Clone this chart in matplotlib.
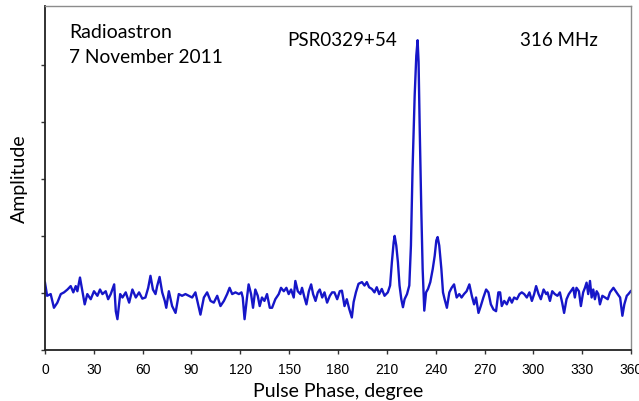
import matplotlib
matplotlib.use("Agg")
import matplotlib.pyplot as plt

# Pulse profile of PSR0329+54 (phase in degrees, relative amplitude)
phase = [
    0.0, 1.3, 3.5, 5.5, 7.6, 9.7, 11.7, 13.8, 15.8, 17.4, 18.9, 19.9, 21.5, 23.0,
    24.4, 26.0, 28.1, 30.1, 32.2, 33.8, 35.3, 37.3, 38.8, 40.4, 42.5, 43.5, 44.5,
    46.2, 47.6, 49.6, 51.7, 53.7, 55.8, 57.8, 59.8, 61.7, 63.4, 64.8, 66.3, 67.9,
    68.9, 70.4, 72.0, 73.6, 74.5, 76.1, 78.1, 80.2, 82.2, 84.2, 86.3, 88.3, 90.4,
    92.4, 94.1, 95.5, 97.6, 99.6, 101.7, 103.7, 105.8, 107.8, 109.9, 111.9, 113.4,
    115.0, 117.0, 119.1, 120.7, 121.5, 122.6, 124.1, 125.1, 126.6, 127.8, 129.2,
    130.7, 131.9, 133.3, 134.8, 136.4, 138.1, 139.5, 141.5, 143.6, 145.0, 146.7,
    148.3, 149.7, 151.2, 152.8, 153.8, 155.3, 156.9, 157.9, 159.4, 160.6, 162.1,
    163.5, 164.7, 166.2, 167.6, 168.8, 170.3, 171.7, 173.3, 175.0, 176.4, 177.8,
    179.5, 181.1, 182.4, 184.0, 185.4, 186.9, 188.5, 189.6, 191.0, 192.6, 194.7,
    196.3, 197.7, 199.1, 200.8, 202.4, 203.8, 205.3, 206.9, 208.6, 210.6, 212.0,
    213.1, 214.2, 214.8, 215.8, 216.8, 217.8, 218.9, 219.9, 220.9, 222.4, 223.8,
    224.8, 225.8, 227.1, 228.1, 228.9, 229.5, 230.2, 231.2, 232.0, 233.0, 234.1,
    235.3, 236.7, 238.2, 239.4, 240.4, 241.2, 242.2, 243.5, 244.5, 245.5, 246.9,
    248.4, 249.8, 251.3, 252.9, 254.5, 255.9, 257.4, 259.0, 260.7, 262.2, 263.6,
    264.8, 266.3, 267.7, 269.3, 271.0, 272.4, 273.9, 275.5, 277.1, 278.5, 279.6,
    280.6, 282.1, 283.7, 285.4, 286.8, 288.2, 289.9, 291.5, 292.9, 294.4, 296.0,
    297.6, 299.1, 300.5, 301.7, 303.2, 304.6, 306.3, 307.9, 308.7, 310.2, 311.6,
    313.2, 314.8, 316.3, 317.7, 318.9, 320.4, 321.8, 323.0, 324.5, 325.5, 326.5,
    328.0, 329.2, 330.6, 331.7, 332.7, 333.7, 334.8, 335.8, 336.8, 337.8, 338.9,
    339.9, 340.9, 342.4, 344.0, 345.7, 347.1, 349.2, 350.6, 351.8, 353.3, 354.7,
    355.9, 357.4, 358.4, 359.8,
]
amplitude = [
    1.18, 0.95, 0.98, 0.74, 0.83, 0.98, 1.01, 1.06, 1.12, 1.01, 1.12, 1.03, 1.27, 1.03,
    0.80, 0.98, 0.89, 1.03, 0.95, 1.06, 0.98, 1.03, 0.89, 0.98, 1.15, 0.68, 0.54,
    0.98, 0.92, 1.01, 0.83, 1.06, 0.92, 1.01, 0.90, 0.92, 1.09, 1.30, 1.06, 0.98,
    1.12, 1.28, 1.01, 0.86, 0.74, 1.03, 0.77, 0.65, 0.98, 0.95, 0.98, 0.95, 0.92,
    1.01, 0.80, 0.62, 0.92, 1.01, 0.86, 0.83, 0.95, 0.77, 0.86, 0.98, 1.09,
    0.98, 1.01, 0.98, 1.01, 0.92, 0.54, 0.92, 1.15, 0.98, 0.74, 1.06,
    0.95, 0.77, 0.92, 0.86, 0.98, 0.74, 0.74, 0.89, 0.98, 1.09, 1.03,
    1.09, 0.98, 1.06, 0.92, 1.21, 1.03, 0.98, 1.09, 0.92, 0.80, 1.03,
    1.15, 0.98, 0.86, 1.01, 1.06, 0.92, 1.01, 0.83, 0.95, 1.01, 1.01,
    0.89, 1.03, 1.04, 0.77, 0.89, 0.72, 0.57, 0.84, 1.01, 1.16, 1.19,
    1.13, 1.19, 1.10, 1.07, 1.01, 1.10, 0.98, 1.07, 0.95, 1.01, 1.13,
    1.54, 1.89, 2.00, 1.83, 1.54, 1.13, 0.89, 0.75, 0.89, 0.98, 1.13,
    1.83, 3.17, 4.46, 5.16, 5.43, 5.05, 3.88, 2.42, 1.42, 0.69, 1.01,
    1.07, 1.19, 1.42, 1.65, 1.92, 1.98, 1.83, 1.42, 1.01, 0.89, 0.74,
    1.01, 1.09, 1.15, 0.92, 0.98, 0.92, 0.98, 1.03, 1.15, 0.95, 0.80,
    0.92, 0.65, 0.77, 0.92, 1.06, 1.01, 0.80, 0.71, 0.68, 1.01, 1.01,
    0.77, 0.86, 0.80, 0.92, 0.83, 0.92, 0.89, 0.98, 1.01, 0.98, 0.92,
    1.01, 0.86, 0.98, 1.12, 0.98, 0.89, 1.06, 0.98, 1.01, 0.86, 1.03,
    0.98, 0.95, 1.01, 0.83, 0.65, 0.89, 0.98, 1.03, 1.09, 0.92, 1.09,
    1.03, 0.77, 1.01, 1.09, 1.18, 0.98, 1.21, 0.92, 1.06, 0.89, 1.03,
    0.98, 0.80, 0.95, 0.92, 0.89, 1.01, 1.09, 1.03, 0.98, 0.92, 0.60,
    0.80, 0.95, 0.98, 1.03,
]
x_ticks = [0, 30, 60, 90, 120, 150, 180, 210, 240, 270, 300, 330, 360]

fig = plt.figure(figsize=(6.39, 4.02), dpi=100)
ax = fig.add_axes([0.0704, 0.1269, 0.9171, 0.8557])

ax.plot(phase, amplitude, color="#1616c8", lw=1.7, solid_joinstyle="round")

ax.set_xlim(0, 360)
ax.set_ylim(0, 6.03)
ax.set_xticks(x_ticks)
ax.set_xticklabels([str(t) for t in x_ticks], fontfamily="Liberation Sans", fontsize=10)
ax.set_yticks([0, 1, 2, 3, 4, 5])
ax.set_yticklabels([])
ax.tick_params(axis="both", direction="out", length=3, width=1, color="#333333")
ax.tick_params(axis="x", pad=6)

for side in ("top", "right"):
    ax.spines[side].set_color("#8c8c8c")
    ax.spines[side].set_linewidth(1.0)
for side in ("left", "bottom"):
    ax.spines[side].set_color("#222222")
    ax.spines[side].set_linewidth(1.3)

label_font = "Lato"
ax.set_xlabel("Pulse Phase, degree", fontfamily=label_font, fontsize=14, labelpad=4)
ax.set_ylabel("Amplitude", fontfamily=label_font, fontsize=14, labelpad=6)

ax.text(0.041, 0.927, "Radioastron", transform=ax.transAxes, fontfamily=label_font,
        fontsize=14, va="center", ha="left")
ax.text(0.041, 0.852, "7 November 2011", transform=ax.transAxes, fontfamily=label_font,
        fontsize=13.8, va="center", ha="left")
ax.text(0.507, 0.902, "PSR0329+54", transform=ax.transAxes, fontfamily=label_font,
        fontsize=13.5, va="center", ha="center")
ax.text(0.81, 0.902, "316 MHz", transform=ax.transAxes, fontfamily=label_font,
        fontsize=13.5, va="center", ha="left")

fig.savefig("out.png", dpi=100)
